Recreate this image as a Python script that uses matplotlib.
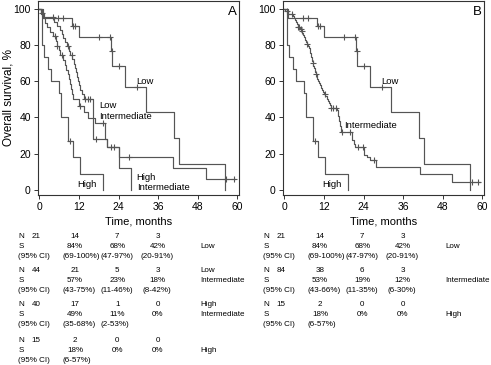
import numpy as np
import matplotlib
matplotlib.use("Agg")
import matplotlib.pyplot as plt
from matplotlib.transforms import blended_transform_factory

plt.rcParams['font.family'] = ['Liberation Sans', 'DejaVu Sans']

# Kaplan-Meier curves: time of each step (months) and survival (%) after it
low_t = [0, 1.0, 9.8, 12.0, 21.7, 22.1, 26.1, 32.3, 40.7, 42.2, 56.4]
low_s = [100, 95.2, 90.5, 84.5, 77.1, 68.6, 56.7, 42.9, 28.5, 14.2, 0]
low_cens = [5.8, 7.1, 10.1, 10.9, 18.0, 21.4, 21.9, 24.2, 29.5]

high_t = [0, 0.9, 1.5, 2.6, 3.5, 5.9, 6.7, 8.6, 10.3, 12.3, 19.2]
high_s = [100, 80, 73.3, 66.7, 60, 53.3, 40, 26.7, 17.8, 8.9, 0]
high_cens = [9.4]

lowint_t = [0, 0.6, 1.5, 4.5, 5.4, 6.2, 6.8, 7.3, 7.8, 8.4, 9.0, 9.4, 10.0, 10.4, 10.7,
            11.0, 11.3, 11.6, 11.9, 12.4, 12.8, 13.4, 16.2, 20.6, 24.2, 40.6, 50.5, 59.3]
lowint_s = [100, 97.7, 95.5, 93.2, 90.9, 88.6, 86.3, 84.0, 81.7, 79.4, 77.0, 74.7, 72.3, 69.9, 67.5,
            65.1, 62.7, 60.3, 57.9, 55.5, 53.0, 50.5, 27.9, 23.8, 18.3, 12.2, 6.1, 6.1]
lowint_cens = [0.8, 4.2, 8.8, 9.8, 13.9, 14.6, 15.4, 17.2, 21.6, 22.6, 27.3, 56.6, 59.1]

highint_t = [0, 0.5, 1.2, 1.8, 2.4, 3.2, 4.0, 5.0, 5.2, 5.9, 6.4, 7.2, 7.8, 8.2, 8.6, 9.0,
             9.3, 9.6, 9.9, 10.3, 12.1, 13.5, 14.6, 16.8, 19.9, 20.5, 24.0, 27.9]
highint_s = [100, 97.5, 95, 92.5, 90, 87.5, 85, 82.4, 79.8, 77.2, 74.6, 71.9, 69.3, 66.6, 63.9, 61.1,
             58.4, 55.7, 52.9, 50.1, 46.5, 43, 39.5, 36.8, 28, 23.8, 11.7, 0]
highint_cens = [4.8, 5.3, 6.8, 12.3, 19.4]

inter_t = [0, 0.3, 1.2, 2.6, 3.0, 3.2, 3.4, 3.7, 4.0, 4.6, 5.0, 5.4, 5.7, 6.0, 6.3, 6.6, 6.9,
           7.2, 7.5, 7.7, 7.9, 8.0, 8.2, 8.3, 8.5, 8.6, 8.8, 9.0, 9.2, 9.3, 9.5, 9.8, 10.0,
           10.3, 10.6, 10.8, 11.1, 11.4, 11.7, 12.0, 12.4, 12.8, 13.1, 13.4, 13.7, 14.0,
           16.0, 16.3, 16.6, 16.9, 17.2, 20.4, 21.0, 21.5, 24.2, 25.0, 26.0, 27.7, 41.1, 50.9, 59.3]
inter_s = [100, 98.8, 97.6, 96.4, 95.2, 94.0, 92.8, 91.6, 90.4, 89.2, 88.0, 86.8, 85.6, 84.4, 83.2, 82.0, 80.8,
           79.6, 78.4, 77.2, 76.0, 74.8, 73.6, 72.4, 71.2, 70.0, 68.8, 67.6, 66.4, 65.2, 64.0, 62.7, 61.5,
           60.3, 59.1, 57.9, 56.6, 55.4, 54.2, 53.0, 51.8, 50.5, 49.3, 48.0, 46.8, 45.5,
           44.0, 41.0, 38.0, 35.0, 32.0, 27.5, 25.5, 23.5, 19.2, 17.8, 16.5, 12.4, 8.7, 4.4, 4.4]
inter_cens = [0.7, 2.2, 4.2, 4.5, 4.9, 5.3, 7.0, 8.6, 9.6, 12.3, 14.0, 14.7, 15.6, 17.4,
              19.9, 22.4, 23.9, 27.3, 56.8, 58.8]

# tables under the plots
a_n = [["21", "14", "7", "3"], ["44", "21", "5", "3"], ["40", "17", "1", "0"], ["15", "2", "0", "0"]]
a_pct = [["84%", "68%", "42%"], ["57%", "23%", "18%"], ["49%", "11%", "0%"], ["18%", "0%", "0%"]]
a_ci = [["(69-100%)", "(47-97%)", "(20-91%)"], ["(43-75%)", "(11-46%)", "(8-42%)"],
        ["(35-68%)", "(2-53%)"], ["(6-57%)"]]
a_groups = [("", "Low"), ("Low", "Intermediate"), ("High", "Intermediate"), ("", "High")]

b_n = [["21", "14", "7", "3"], ["84", "38", "6", "3"], ["15", "2", "0", "0"]]
b_pct = [["84%", "68%", "42%"], ["53%", "19%", "12%"], ["18%", "0%", "0%"]]
b_ci = [["(69-100%)", "(47-97%)", "(20-91%)"], ["(43-66%)", "(11-35%)", "(6-30%)"], ["(6-57%)"]]
b_groups = [("", "Low"), ("", "Intermediate"), ("", "High")]

W, H = 491, 365
fig = plt.figure(figsize=(W / 100, H / 100), dpi=100)
LC = '#555555'


def km(ax, t, s, cens):
    t = np.asarray(t)
    s = np.asarray(s)
    ax.step(t, s, where='post', color=LC, lw=0.85)
    idx = np.searchsorted(t, cens, side='right') - 1
    ax.plot(cens, s[idx], ls='none', marker='+', ms=5, mew=0.8, color=LC)


def setup(ax, letter):
    ax.set_xlim(-0.5, 60.6)
    ax.set_ylim(-3, 104.6)
    ax.set_xticks(range(0, 61, 12))
    ax.set_yticks(range(0, 101, 20))
    ax.tick_params(direction='out', length=3, width=0.7, labelsize=7.5, pad=2, color='#333333')
    for sp in ax.spines.values():
        sp.set_linewidth(0.8)
        sp.set_color('#333333')
    ax.text(58.4, 98.6, letter, fontsize=9.5, ha='center', va='center')
    ax.text(0.5, -0.135, 'Time, months', transform=ax.transAxes, fontsize=8, ha='center', va='center')


def table(ax, ns, pcts, cis, groups):
    tr = blended_transform_factory(ax.transData, fig.transFigure)
    tops = [237, 271, 305, 340]
    fs = 5.8
    ncols = [-1.0, 10.8, 23.6, 35.8]
    for i in range(len(ns)):
        y0 = tops[i]
        yn, ys, yc = [1 - (y0 + d) / H for d in (0, 10, 20)]
        ax.text(-6.4, yn, 'N', transform=tr, fontsize=fs, ha='left', va='center')
        ax.text(-6.4, ys, 'S', transform=tr, fontsize=fs, ha='left', va='center')
        ax.text(-6.4, yc, '(95% CI)', transform=tr, fontsize=fs, ha='left', va='center')
        for x, v in zip(ncols, ns[i]):
            ax.text(x, yn, v, transform=tr, fontsize=fs, ha='center', va='center')
        for x, v in zip(ncols[1:], pcts[i]):
            ax.text(x, ys, v, transform=tr, fontsize=fs, ha='center', va='center')
        for x, ha, v in zip([7.0, 18.4, 35.7], ['left', 'left', 'center'], cis[i]):
            ax.text(x, yc, v, transform=tr, fontsize=fs, ha=ha, va='center')
        ax.text(48.7, yn, groups[i][0], transform=tr, fontsize=fs, ha='left', va='center')
        ax.text(48.7, ys, groups[i][1], transform=tr, fontsize=fs, ha='left', va='center')


axA = fig.add_axes([37.7 / W, 1 - 195 / H, 201.6 / W, 194 / H])
axB = fig.add_axes([282.7 / W, 1 - 195 / H, 201.6 / W, 194 / H])

km(axA, low_t, low_s, low_cens)
km(axA, lowint_t, lowint_s, lowint_cens)
km(axA, highint_t, highint_s, highint_cens)
km(axA, high_t, high_s, high_cens)
setup(axA, 'A')
fs_lab = 6.8
axA.text(29.5, 60, 'Low', fontsize=fs_lab, va='center')
axA.text(18.2, 43.7, 'Low\nIntermediate', fontsize=fs_lab, va='center', linespacing=1.25)
axA.text(29.5, 4, 'High\nIntermediate', fontsize=fs_lab, va='center', linespacing=1.25)
axA.text(11.5, 2.6, 'High', fontsize=fs_lab, va='center')

km(axB, low_t, low_s, low_cens)
km(axB, inter_t, inter_s, inter_cens)
km(axB, high_t, high_s, high_cens)
setup(axB, 'B')
axB.text(29.5, 60, 'Low', fontsize=fs_lab, va='center')
axB.text(18.2, 35.8, 'Intermediate', fontsize=fs_lab, va='center')
axB.text(11.5, 3, 'High', fontsize=fs_lab, va='center')

fig.text(9 / W, 1 - 98 / H, 'Overall survival, %', rotation=90, fontsize=8.5, ha='center', va='center')

table(axA, a_n, a_pct, a_ci, a_groups)
table(axB, b_n, b_pct, b_ci, b_groups)

fig.savefig('out.png', dpi=100)
